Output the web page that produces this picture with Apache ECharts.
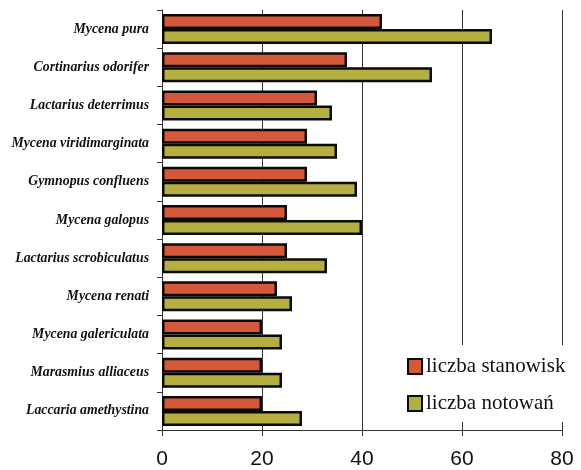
<!DOCTYPE html>
<html>
<head>
<meta charset="utf-8">
<script src="https://cdn.jsdelivr.net/npm/echarts@6/dist/echarts.min.js"></script>
<style>
  html, body { margin: 0; padding: 0; background: #fff; }
  #chart { width: 581px; height: 470px; }
</style>
</head>
<body>
<div id="chart"></div>
<script>
// Fungus species, top to bottom
const species = [
  'Mycena pura',
  'Cortinarius odorifer',
  'Lactarius deterrimus',
  'Mycena viridimarginata',
  'Gymnopus confluens',
  'Mycena galopus',
  'Lactarius scrobiculatus',
  'Mycena renati',
  'Mycena galericulata',
  'Marasmius alliaceus',
  'Laccaria amethystina'
];
// number of sites
const stanowiska = [44, 37, 31, 29, 29, 25, 25, 23, 20, 20, 20];
// number of records
const notowania = [66, 54, 34, 35, 39, 40, 33, 26, 24, 24, 28];
const xTicks = [0, 20, 40, 60, 80];

const chart = echarts.init(document.getElementById('chart'), null, { renderer: 'canvas' });

chart.setOption({
  backgroundColor: '#ffffff',
  animation: false,
  grid: { left: 162, right: 19, top: 10, bottom: 40, containLabel: false },
  legend: {
    orient: 'vertical',
    left: 401,
    top: 345,
    itemWidth: 14,
    itemHeight: 15,
    itemGap: 16,
    icon: 'rect',
    backgroundColor: '#ffffff',
    padding: [11, 10, 8, 6],
    textStyle: { fontFamily: 'Liberation Serif', fontSize: 21, color: '#111', padding: [0, 0, 0, -1] },
    data: ['liczba stanowisk', 'liczba notowań']
  },
  xAxis: {
    type: 'value',
    min: xTicks[0],
    max: xTicks[xTicks.length - 1],
    interval: 20,
    axisLine: { show: true, lineStyle: { color: '#333', width: 1 } },
    axisTick: { show: true, length: 6, lineStyle: { color: '#333' } },
    axisLabel: { margin: 19, fontFamily: 'Liberation Sans', fontSize: 21, color: '#111' },
    splitLine: { show: true, showMinLine: false, showMaxLine: true, lineStyle: { color: '#333', width: 1 } }
  },
  yAxis: {
    type: 'category',
    inverse: true,
    data: species,
    axisLine: { show: true, lineStyle: { color: '#333', width: 1 } },
    axisTick: { show: true, length: 5, lineStyle: { color: '#333' } },
    axisLabel: {
      margin: 13,
      fontFamily: 'Liberation Serif',
      fontStyle: 'italic',
      fontWeight: 'bold',
      fontSize: 13.8,
      color: '#111'
    }
  },
  series: [
    {
      name: 'liczba stanowisk',
      type: 'bar',
      data: stanowiska,
      barWidth: 15,
      barGap: '0%',
      itemStyle: { color: '#d4593b', borderColor: '#0a0a0a', borderWidth: 2.5 }
    },
    {
      name: 'liczba notowań',
      type: 'bar',
      data: notowania,
      barWidth: 15,
      itemStyle: { color: '#b5ae40', borderColor: '#0a0a0a', borderWidth: 2.5 }
    }
  ]
});
</script>
</body>
</html>
